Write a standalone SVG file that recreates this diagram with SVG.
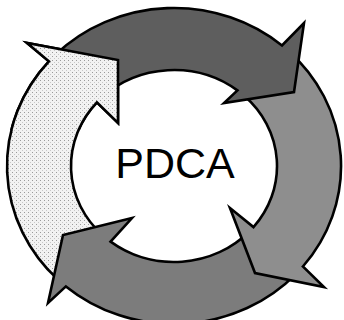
<svg xmlns="http://www.w3.org/2000/svg" xmlns:xlink="http://www.w3.org/1999/xlink" width="344" height="320" viewBox="0 0 344 320">
<style>
.arrow{stroke:#000;stroke-width:2.6;stroke-linejoin:miter;stroke-miterlimit:10}
.label{font-family:"Liberation Sans",Arial,sans-serif;font-size:43px;fill:#000}
</style>
<defs>
<pattern id="dots" width="4" height="4" patternUnits="userSpaceOnUse">
<rect width="4" height="4" fill="#f2f2f2"/>
<rect x="0" y="0" width="1" height="1" fill="#9a9a9a"/>
<rect x="2" y="2" width="1" height="1" fill="#c8c8c8"/>
</pattern>
<clipPath id="clipLeftHead"><rect x="8" y="18" width="128" height="112"/></clipPath>
</defs>
<rect width="344" height="320" fill="#fff"/>
<g id="connectors">
<g id="arrow-left">
<path id="shapeLeft" class="arrow" fill="url(#dots)" d="M58,279.6 A167,158 0 0 1 48.9,61.3 L27,43 L118,60 L118,123 L96.9,102.4 A103,96 0 0 0 102.4,235.1 Z"/>
</g>
<g id="arrow-bottom">
<path class="arrow" fill="#7c7c7c" d="M296.1,273.8 A167,158 0 0 1 65.9,286.4 L48,303 L63,235 L132,218 L110.6,241.6 A103,96 0 0 0 249.3,231.5 Z"/>
</g>
<g id="arrow-right">
<path class="arrow" fill="#8e8e8e" d="M287.9,50.4 A167,158 0 0 1 302.9,266.5 L324,287 L255,273 L230,208 L253.5,227.1 A103,96 0 0 0 244.2,95.8 Z"/>
</g>
<g id="arrow-top">
<path class="arrow" fill="#5e5e5e" d="M55.9,54.3 A167,158 0 0 1 282,45.5 L304,23 L294,92 L224,103 L237.4,90.4 A103,96 0 0 0 101.2,98.1 Z"/>
</g>
<g id="arrow-left-head">
<use xlink:href="#shapeLeft" clip-path="url(#clipLeftHead)"/>
</g>
</g>
<g id="center-label">
<text class="label" x="175" y="178" text-anchor="middle">PDCA</text>
</g>
</svg>
